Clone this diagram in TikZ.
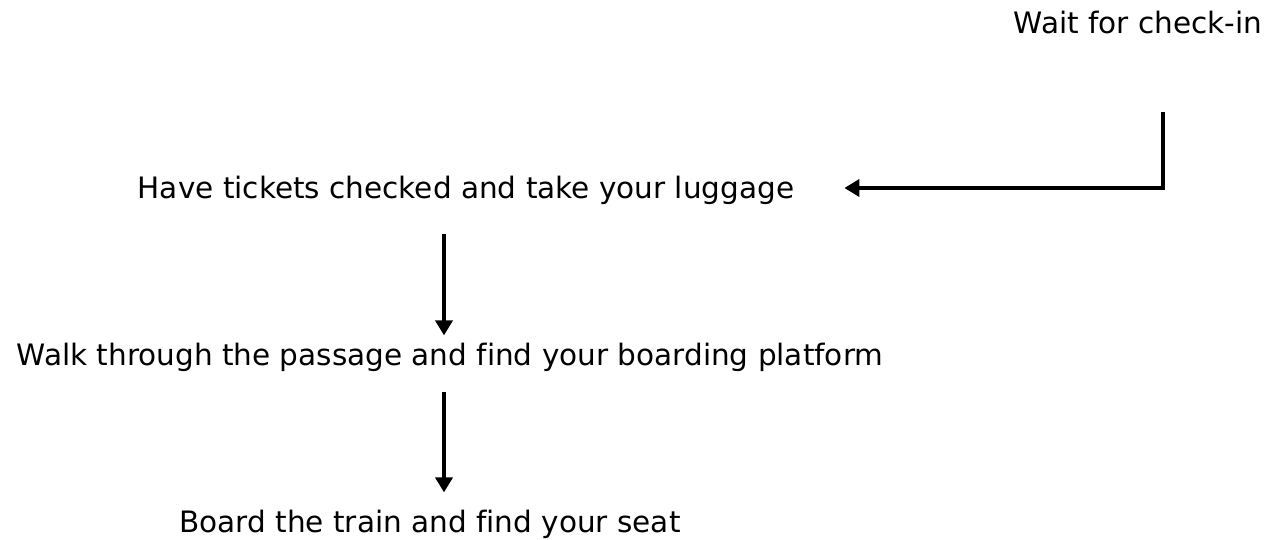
\documentclass[tikz,border=0pt]{standalone}
\usepackage{fontspec}
\setmainfont[Ligatures=NoCommon]{DejaVu Sans}
\usetikzlibrary{arrows.meta}
\tikzset{
  stage/.style={inner sep=0pt, anchor=base, font=\fontsize{29.5}{35}\selectfont},
  flow/.style={line width=4.3pt, line join=miter, -{Triangle[length=15pt,width=17pt]}}
}
\begin{document}
\begin{tikzpicture}[x=1pt,y=-1pt]
        \useasboundingbox (0,0) rectangle (1278,539);
        % steps
        \node[stage] (wait)  at (1138,33)  {Wait for check-in};
        \node[stage] (have)  at (466,198)  {Have tickets checked and take your luggage};
        \node[stage] (walk)  at (450,365)  {Walk through the passage and find your boarding platform};
        \node[stage] (board) at (430,532)  {Board the train and find your seat};
        % helpers
        \coordinate (bend)  at (1163,188);
        \coordinate (spine) at (444,0);
        % arrows
        \draw[flow] ([yshift=-78pt]wait.south -| bend) -- (bend) -- ([xshift=50pt]have.east |- bend);
        \draw[flow] ([yshift=-30pt]have.south -| spine) -- ([yshift=7pt]walk.north -| spine);
        \draw[flow] ([yshift=-21pt]walk.south -| spine) -- ([yshift=17pt]board.north -| spine);
\end{tikzpicture}
\end{document}
